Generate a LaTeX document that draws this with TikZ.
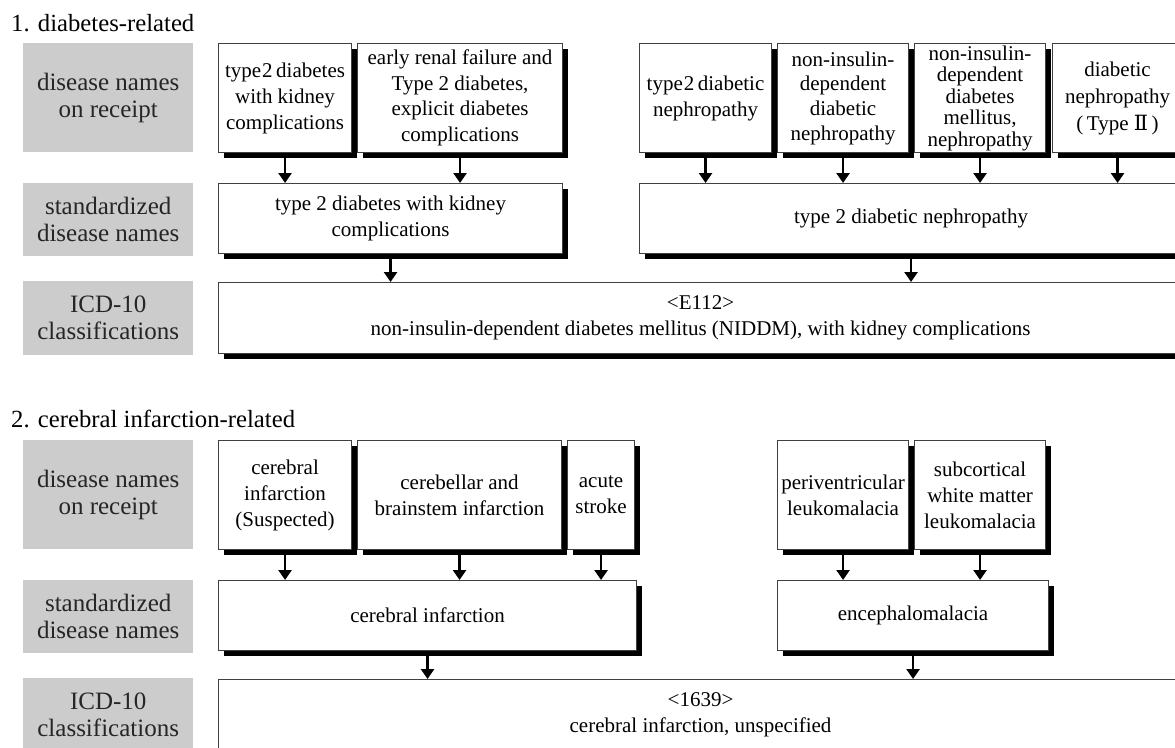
\documentclass[tikz,border=0pt]{standalone}
\usepackage{fontspec}
\setmainfont{Liberation Serif}
\newfontfamily\numerals{DejaVu Serif}
\usetikzlibrary{arrows.meta,shadows}

\tikzset{
  entry/.style={draw=black!75, line width=1.1pt, fill=white, align=center,
    anchor=north west, inner sep=2pt, text=black,
    font=\fontsize{21}{26}\selectfont,
    drop shadow={shadow xshift=5.5pt, shadow yshift=-5.5pt, fill=black, opacity=1}},
  tag/.style={fill=black!20, align=center, anchor=north west, inner sep=0pt,
    text=black!85, font=\fontsize{25}{27}\selectfont, minimum width=170pt},
  heading/.style={anchor=base west, inner sep=0pt, font=\fontsize{24.7}{28}\selectfont},
  flow/.style={line width=2.8pt, -{Triangle[width=13pt,length=10pt]}},
  tight/.style={font=\fontsize{21}{21.5}\selectfont},
  mid/.style={font=\fontsize{21}{24.7}\selectfont},
}

\begin{document}
\begin{tikzpicture}[x=1pt,y=-1pt]
\useasboundingbox (0,0) rectangle (1175,747);

% ---------- 1. diabetes-related ----------
\node[heading] (h1) at (11,31) {1. diabetes-related};

\node[tag, minimum height=109pt] (g1a) at (23,43) {disease names\\on receipt};
\node[tag, minimum height=73pt]  (g1b) at (23,183) {standardized\\disease names};
\node[tag, minimum height=74pt]  (g1c) at (23,281) {ICD-10\\classifications};

\node[entry, minimum width=133pt, minimum height=109pt] (r1a) at (218,43)
  {type{\kern1pt}2\,diabetes\\with kidney\\complications};
\node[entry, minimum width=205pt, minimum height=109pt, font=\fontsize{21}{25.5}\selectfont] (r1b) at (357,43)
  {early renal failure and\\Type 2 diabetes,\\explicit diabetes\\complications};
\node[entry, minimum width=132pt, minimum height=109pt] (r1c) at (639,43)
  {type{\kern1pt}2\,diabetic\\nephropathy};
\node[entry, mid, minimum width=131pt, minimum height=109pt] (r1d) at (777,43)
  {non-insulin-\\dependent\\diabetic\\nephropathy};
\node[entry, tight, minimum width=131pt, minimum height=109pt] (r1e) at (914,43)
  {non-insulin-\\dependent\\diabetes\\mellitus,\\nephropathy};
\node[entry, font=\fontsize{21}{27}\selectfont, minimum width=130pt, minimum height=109pt] (r1f) at (1052,43)
  {diabetic\\nephropathy\\(\,Type {\numerals Ⅱ}\,)};

\node[entry, minimum width=344pt, minimum height=70pt] (s1a) at (218,183)
  {type 2 diabetes with kidney\\complications};
\node[entry, minimum width=543pt, minimum height=70pt] (s1b) at (639,183)
  {type 2 diabetic nephropathy};

\node[entry, minimum width=964pt, minimum height=71pt] (i1) at (218,282)
  {<E112>\\non-insulin-dependent diabetes mellitus (NIDDM), with kidney complications};

\foreach \n in {r1a,r1b}
  \draw[flow] ([yshift=-5pt]\n.south) -- (\n.south |- s1a.north);
\foreach \n in {r1c,r1d,r1e,r1f}
  \draw[flow] ([yshift=-5pt]\n.south) -- (\n.south |- s1b.north);
\foreach \n in {s1a,s1b}
  \draw[flow] ([yshift=-5pt]\n.south) -- (\n.south |- i1.north);

% ---------- 2. cerebral infarction-related ----------
\node[heading] (h2) at (11,427) {2. cerebral infarction-related};

\node[tag, minimum height=109pt] (g2a) at (23,440) {disease names\\on receipt};
\node[tag, minimum height=73pt]  (g2b) at (23,580) {standardized\\disease names};
\node[tag, minimum height=74pt]  (g2c) at (23,678) {ICD-10\\classifications};

\node[entry, minimum width=133pt, minimum height=109pt] (r2a) at (218,440)
  {cerebral\\infarction\\(Suspected)};
\node[entry, minimum width=204pt, minimum height=109pt] (r2b) at (357,440)
  {cerebellar and\\brainstem infarction};
\node[entry, minimum width=67pt, minimum height=109pt] (r2c) at (567,440)
  {acute\\stroke};
\node[entry, minimum width=131pt, minimum height=109pt] (r2d) at (777,440)
  {periventricular\\leukomalacia};
\node[entry, minimum width=131pt, minimum height=109pt] (r2e) at (914,440)
  {subcortical\\white matter\\leukomalacia};

\node[entry, minimum width=418pt, minimum height=70pt] (s2a) at (218,580)
  {cerebral infarction};
\node[entry, minimum width=271pt, minimum height=70pt] (s2b) at (777,580)
  {encephalomalacia};

\node[entry, minimum width=964pt, minimum height=71pt] (i2) at (218,679)
  {<1639>\\cerebral infarction, unspecified};

\foreach \n in {r2a,r2b,r2c}
  \draw[flow] ([yshift=-5pt]\n.south) -- (\n.south |- s2a.north);
\foreach \n in {r2d,r2e}
  \draw[flow] ([yshift=-5pt]\n.south) -- (\n.south |- s2b.north);
\foreach \n in {s2a,s2b}
  \draw[flow] ([yshift=-5pt]\n.south) -- (\n.south |- i2.north);
\end{tikzpicture}
\end{document}
